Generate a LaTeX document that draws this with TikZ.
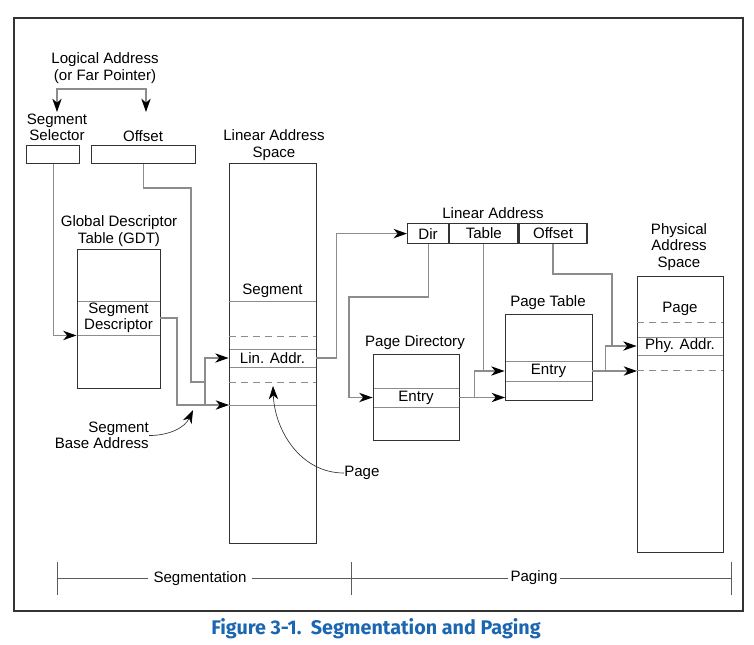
\documentclass[tikz,border=0pt]{standalone}
\usepackage{fontspec}
\setmainfont{Liberation Sans}
\newfontfamily\titlefont{Fira Sans}
\usetikzlibrary{arrows.meta,positioning}
\definecolor{linegray}{HTML}{8C8C8C}
\definecolor{boxgray}{HTML}{333333}
\definecolor{intelblue}{HTML}{1B66B1}
\def\pu{0.75pt}

\begin{document}
\begin{tikzpicture}[x=0.75pt,y=-0.75pt,
    font=\fontsize{11.3}{12.2}\selectfont,
    box/.style={draw=boxgray,line width=0.9pt,inner sep=0pt,anchor=north west},
    row/.style={draw=linegray,line width=0.7pt,inner sep=0pt,align=center},
    link/.style={draw=linegray,line width=0.9pt},
    arrowtip/.style={-{Stealth[length=10pt,width=7pt,inset=3pt,color=black,fill=black]}},
    sep/.style={draw=linegray,line width=0.7pt},
    cut/.style={sep,dash pattern=on 5pt off 4pt},
    lbl/.style={align=center,inner sep=0pt}]

        % Paso 1: Fija el marco de la figura
        \useasboundingbox (0,0) rectangle (754,644);
        \draw[boxgray,line width=0.9pt] (14,18) rectangle (743,611);

        % Paso 2: Las filas marcadas dentro de las tablas
        \node[row,minimum width=83*\pu,minimum height=34*\pu] (gdtrow) at (118.5,318) {Segment\\Descriptor};
        \node[row,minimum width=87*\pu,minimum height=18*\pu] (linrow) at (272.5,358) {Lin. Addr.};
        \node[row,minimum width=86*\pu,minimum height=19*\pu] (pdrow) at (416,397.5) {Entry};
        \node[row,minimum width=87*\pu,minimum height=20*\pu] (ptrow) at (548.5,371) {Entry};
        \node[row,minimum width=86*\pu,minimum height=18*\pu] (phyrow) at (680,346) {Phy. Addr.};

        % Paso 3: Las cajas exteriores
        \node[box,minimum width=53*\pu,minimum height=18*\pu] (sel) at (26,145) {};
        \node[box,minimum width=104*\pu,minimum height=18*\pu] (off) at (91,145) {};
        \node[box,minimum width=83*\pu,minimum height=139*\pu] (gdt) at (77,249) {};
        \node[box,minimum width=87*\pu,minimum height=380*\pu] (las) at (229,163) {};
        \node[box,minimum width=86*\pu,minimum height=86*\pu] (pd) at (373,354) {};
        \node[box,minimum width=87*\pu,minimum height=86*\pu] (pt) at (505,314) {};
        \node[box,minimum width=86*\pu,minimum height=276*\pu] (pas) at (637,276) {};

        % Paso 4: La direccion lineal con sus tres campos
        \node[box,minimum width=41*\pu,minimum height=20*\pu] (dir) at (407,223) {Dir};
        \node[box,minimum width=68*\pu,minimum height=20*\pu,right=0pt of dir] (tbl) {Table};
        \node[box,minimum width=68*\pu,minimum height=20*\pu,right=0pt of tbl] (lof) {Offset};

        % Paso 5: Lineas de division de los espacios
        \foreach \y in {301,405} \draw[sep] (229,\y) -- (316,\y);
        \foreach \y in {336,382} \draw[cut] (229,\y) -- (316,\y);
        \foreach \y in {322,370} \draw[cut] (637,\y) -- (723,\y);

        % Paso 6: Los titulos
        \node[lbl] (logical) at (105,68) {Logical Address\\(or Far Pointer)};
        \node[lbl] (sellbl) at (57,127.5) {Segment\\Selector};
        \node[lbl] (offlbl) at (143,136) {Offset};
        \node[lbl] (laslbl) at (274,145) {Linear Address\\Space};
        \node[lbl] (gdtlbl) at (119,231) {Global Descriptor\\Table (GDT)};
        \node[lbl] (seglbl) at (272.5,291) {Segment};
        \node[lbl,align=right,anchor=east] (baselbl) at (149,435.5) {Segment\\Base Address};
        \node[lbl,anchor=west] (pagelbl) at (344,473) {Page};
        \node[lbl] (lalbl) at (493,213) {Linear Address};
        \node[lbl] (pdlbl) at (415,343) {Page Directory};
        \node[lbl] (ptlbl) at (548,303) {Page Table};
        \node[lbl] (paslbl) at (679,247) {Physical\\Address\\Space};
        \node[lbl] (pagetxt) at (680,309) {Page};

        % Paso 7: Conectores de la segmentacion
        \coordinate (split) at (101,89);
        \coordinate (offbend) at (191,188);
        \coordinate (sumpt) at (205,382);
        \coordinate (sumlow) at (205,405);
        \coordinate (basebend) at (177,405);
        \coordinate (base) at (229,405);
        \draw[link,arrowtip] (split) -| (57,112);
        \draw[link,arrowtip] (split) -| (146,112);
        \draw[link,arrowtip] (sel.south) |- (gdtrow.south west);
        \draw[link] (off.south) |- (offbend) |- (sumpt);
        \draw[link,arrowtip] (gdtrow.east) -| (basebend) -- (base);
        \draw[link,arrowtip] (sumlow) |- (linrow.west);

        % Paso 8: Conectores de la paginacion
        \coordinate (dirbend) at (349,297);
        \coordinate (offbend2) at (612,274);
        \draw[link,arrowtip] (linrow.east) -- ++(20,0) |- (dir.west);
        \draw[link,arrowtip] (dir.south) |- (dirbend) |- (pdrow.west);
        \draw[link,arrowtip] (pdrow.east) -- ++(15,0) coordinate (pdfork) -- (pt.west |- pdrow.east);
        \draw[link,arrowtip] (pdfork) |- (ptrow.west);
        \draw[link] (tbl.south) -- (tbl.south |- ptrow.west);
        \draw[link,arrowtip] (ptrow.east) -- ++(13,0) coordinate (ptfork) -- (pas.west |- ptrow.east);
        \draw[link,arrowtip] (ptfork) |- (phyrow.west);
        \draw[link] (lof.south) |- (offbend2) -- (offbend2 |- phyrow.west);

        % Paso 9: Flechas curvas de las leyendas
        \coordinate (basetip) at (193,410);
        \coordinate (pagetip) at (273,386);
        \draw[boxgray,line width=0.5pt,arrowtip] (baselbl.east) to[out=0,in=-115] (basetip);
        \draw[boxgray,line width=0.5pt,arrowtip] (pagelbl.west) to[out=180,in=-88] (pagetip);

        % Paso 10: Escala de segmentacion y paginacion
        \draw[draw=boxgray!80,line width=0.7pt] (57,578) -- (731,578);
        \foreach \x in {57,351,731} \draw[draw=boxgray!80,line width=0.7pt] (\x,562) -- (\x,595);
        \node[lbl,fill=white,inner xsep=4pt] (seglabel) at (200,579) {Segmentation};
        \node[lbl,fill=white,inner xsep=2pt] (paglabel) at (534,578) {Paging};

        % Paso 11: Pie de figura
        \node[text=intelblue,font=\titlefont\bfseries\fontsize{14.8}{16}\selectfont] (caption) at (376,629)
            {Figure 3-1.\ \ Segmentation and Paging};
\end{tikzpicture}
\end{document}
